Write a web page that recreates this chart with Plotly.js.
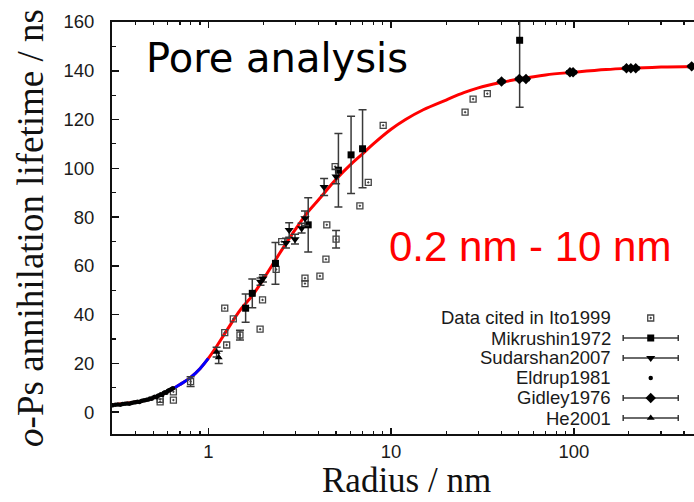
<!DOCTYPE html>
<html>
<head>
<meta charset="utf-8">
<script src="https://cdn.plot.ly/plotly-3.0.1.min.js"></script>
<style>
html,body{margin:0;padding:0;overflow:hidden;background:#fff;}
#chart{width:704px;height:502px;}
</style>
</head>
<body>
<div id="chart"></div>
<script>
// ---- model curve ----
const fitR = [0.297,0.35,0.40,0.45,0.50,0.55,0.62,0.70,0.80,0.90,1.0,1.1,1.25,1.5,1.75,2.0,2.5,3.0,3.5,4.0,5.0,6.0,7.0,8.0,10,12,15,20,25,30,40,50,70,100,150,200,300,460];
const fitV = [2.9,3.5,4.1,4.8,5.8,7.0,9.0,11.3,14.2,17.8,22.0,26.5,33.0,42.0,48.0,54.5,66.0,75.0,82.0,87.0,95.5,101.5,106.0,110.0,116.0,120.0,124.0,128.0,131.0,133.0,135.2,136.6,138.3,139.4,140.5,141.0,141.5,141.8];
const blueFrom = 0.62, blueTo = 1.0;

// ---- Data cited in Ito1999 ----
const itoR = [0.545,0.545,0.644,0.644,1.23,1.26,1.23,1.37,1.92,1.98,2.35,2.52,3.38,3.38,4.08,4.40,4.45,4.94,6.75,7.50,9.05,25.4,28.1,33.6];
const itoV = [4.2,5.2,4.9,8.3,42.6,27.5,32.6,38.2,34.0,46.0,58.5,69.9,54.9,52.7,55.8,62.7,76.8,100.7,84.6,94.2,117.6,123.0,128.4,130.6];
const itoErrR = [0.80,1.49,5.0];
const itoErrV = [12.5,31.6,70.9];
const itoErrE = [2.0,2.0,3.6];

// ---- Mikrushin1972 ----
const mikR = [1.60,1.74,2.33,3.52,5.15,6.04,6.98,50.5];
const mikV = [42.6,48.7,61.0,76.8,99.2,105.5,108.0,152.5];
const mikE = [5.8,5.9,8.6,11.1,15.1,15.8,16.0,27.5];

// ---- Sudarshan2007 ----
const sudR = [1.93,1.99,2.66,2.77,2.98,3.24,3.38,4.30,5.00];
const sudV = [53.5,54.8,69.3,74.7,70.9,75.4,79.5,92.3,96.6];
const sudE = [1.5,1.5,2.0,3.0,2.0,2.0,3.0,3.5,3.0];

// ---- Eldrup1981 ----
const eldR = [0.30,0.31,0.32,0.33,0.34,0.35,0.36,0.37,0.38,0.39,0.40,0.41,0.42,0.43,0.44,0.45,0.46,0.47,0.48,0.49,0.50,0.51,0.52,0.53,0.54,0.55,0.56,0.57,0.58,0.59,0.60,0.61,0.62,0.63,0.64];
const eldV = [2.8,3.0,3.1,3.0,3.3,3.4,3.5,3.4,3.7,3.9,4.0,4.2,4.1,4.5,4.7,4.8,5.1,5.2,5.6,5.5,6.0,6.3,6.1,6.7,6.9,7.3,7.0,7.8,8.1,7.9,8.6,8.9,9.2,9.5,9.8];

// ---- Gidley1976 ----
const gidR = [40.2,50.3,54.7,95.2,99.0,194,205,218,441];
const gidV = [135.6,136.6,136.6,139.4,139.4,141.0,141.0,141.0,141.8];
const gidE = [0.6,0.6,0.6,0.6,0.6,0.6,0.6,0.6,0.6];

// ---- He2001 ----
const heR = [1.11,1.14];
const heV = [24.6,22.4];
const heE = [2.0,2.5];

// ---- axis ticks / labels ----
const xTickVals = [1,10,100];
const xTickText = ['1','10','100'];
const xMinorVals = [0.3,0.4,0.5,0.6,0.7,0.8,0.9,2,3,4,5,6,7,8,9,20,30,40,50,60,70,80,90,200,300,400];
const legendNames = ['Data cited in Ito1999','Mikrushin1972','Sudarshan2007','Eldrup1981','Gidley1976','He2001'];
const xTitle = 'Radius / nm';
const yTitle = '<i>o</i>-Ps annihilation lifetime / ns';

// ---- styles ----
const ERR = {color:'#3a3a3a', thickness:1.5, width:4};
const tickFont = {family:'Liberation Sans, Arial, sans-serif', size:18.5, color:'#1a1a1a'};
const serif = 'Liberation Serif, Times New Roman, serif';

const styles = [
  {symbol:'square-open-dot', size:6, color:'#444', lw:1.3, err:false},
  {symbol:'square', size:7, color:'#000', lw:0, err:true},
  {symbol:'triangle-down', size:8, color:'#000', lw:0, err:true},
  {symbol:'circle', size:4.5, color:'#000', lw:0, err:false},
  {symbol:'diamond', size:8, color:'#000', lw:0, err:true},
  {symbol:'triangle-up', size:7, color:'#000', lw:0, err:true}
];

function mk(i){ const s=styles[i]; return {symbol:s.symbol,size:s.size,color:s.color,line:{color:s.color,width:s.lw}}; }

const blueR = [], blueV = [];
fitR.forEach((r,i)=>{ if(r>=blueFrom && r<=blueTo){ blueR.push(r); blueV.push(fitV[i]); }});

const traces = [
  {x:fitR, y:fitV, mode:'lines', line:{color:'#ff0000', width:3, shape:'spline'}, hoverinfo:'skip'},
  {x:blueR, y:blueV, mode:'lines', line:{color:'#0000ff', width:3, shape:'spline'}, hoverinfo:'skip'},
  {x:itoR, y:itoV, mode:'markers', marker:mk(0)},
  {x:itoErrR, y:itoErrV, mode:'markers', marker:mk(0), error_y:Object.assign({type:'data', array:itoErrE}, ERR)},
  {x:mikR, y:mikV, mode:'markers', marker:mk(1), error_y:Object.assign({type:'data', array:mikE}, ERR)},
  {x:sudR, y:sudV, mode:'markers', marker:mk(2), error_y:Object.assign({type:'data', array:sudE}, ERR)},
  {x:eldR, y:eldV, mode:'markers', marker:mk(3)},
  {x:gidR, y:gidV, mode:'markers', marker:mk(4), error_y:Object.assign({type:'data', array:gidE}, ERR)},
  {x:heR, y:heV, mode:'markers', marker:mk(5), error_y:Object.assign({type:'data', array:heE}, ERR)}
];

// ---- manual key (symbol to the right of the text, gnuplot style) ----
const keyCfg = {textX:0.846, symX:0.910, halfLen:0.0465, rows:[0.2816,0.233,0.1845,0.136,0.0874,0.0388]};
const annotations = [];
legendNames.forEach((name,i)=>{
  annotations.push({xref:'paper', yref:'paper', x:keyCfg.textX, y:keyCfg.rows[i], xanchor:'right', yanchor:'middle',
    text:name, showarrow:false, font:tickFont});
  const s = styles[i];
  const t = {x:[keyCfg.symX], y:[keyCfg.rows[i]], xaxis:'x2', yaxis:'y2', mode:'markers', marker:mk(i), hoverinfo:'skip'};
  if(s.err){ t.error_x = Object.assign({type:'constant', value:keyCfg.halfLen}, {color:'#3a3a3a', thickness:1.5, width:3}); }
  traces.push(t);
});

annotations.push({xref:'paper', yref:'paper', x:0.054, y:0.912, xanchor:'left', yanchor:'middle',
  text:'Pore analysis', showarrow:false, font:{family:'DejaVu Sans, Verdana, sans-serif', size:40, color:'#000'}});
annotations.push({xref:'paper', yref:'paper', x:0.465, y:0.454, xanchor:'left', yanchor:'middle',
  text:'0.2 nm - 10 nm', showarrow:false, font:{family:'Liberation Sans, Arial, sans-serif', size:42, color:'#ff0000'}});
// x-axis title placed as an annotation for exact positioning
annotations.push({xref:'paper', yref:'paper', x:0.4975, y:-0.113, xanchor:'center', yanchor:'middle',
  text:xTitle, showarrow:false, font:{family:serif, size:35, color:'#111'}});

const layout = {
  width:704, height:502,
  margin:{l:112, r:0, t:22, b:68},
  paper_bgcolor:'#fff', plot_bgcolor:'#fff',
  showlegend:false,
  xaxis:{type:'log', range:[-0.527, 2.712], tickmode:'array', tickvals:xTickVals, ticktext:xTickText,
    ticks:'inside', ticklen:6, tickwidth:1.5, tickcolor:'#111',
    minor:{tickmode:'array', tickvals:xMinorVals, ticks:'inside', ticklen:3, tickwidth:1.2, tickcolor:'#111'},
    showline:true, linewidth:2, linecolor:'#111', mirror:'ticks', showgrid:false, zeroline:false,
    tickfont:tickFont, ticklabelstandoff:0},
  yaxis:{range:[-9,160], tickmode:'linear', tick0:0, dtick:20,
    ticks:'inside', ticklen:7, tickwidth:1.5, tickcolor:'#111',
    minor:{dtick:10, ticks:'inside', ticklen:4, tickwidth:1.2, tickcolor:'#111'},
    showline:true, linewidth:2, linecolor:'#111', mirror:'ticks', showgrid:false, zeroline:false,
    tickfont:tickFont, ticklabelstandoff:12,
    title:{text:yTitle, font:{family:serif, size:37, color:'#111'}, standoff:8}},
  xaxis2:{overlaying:'x', range:[0,1], visible:false, fixedrange:true},
  yaxis2:{overlaying:'y', range:[0,1], visible:false, fixedrange:true},
  annotations:annotations
};

Plotly.newPlot('chart', traces, layout, {displayModeBar:false, staticPlot:true});
</script>
</body>
</html>
